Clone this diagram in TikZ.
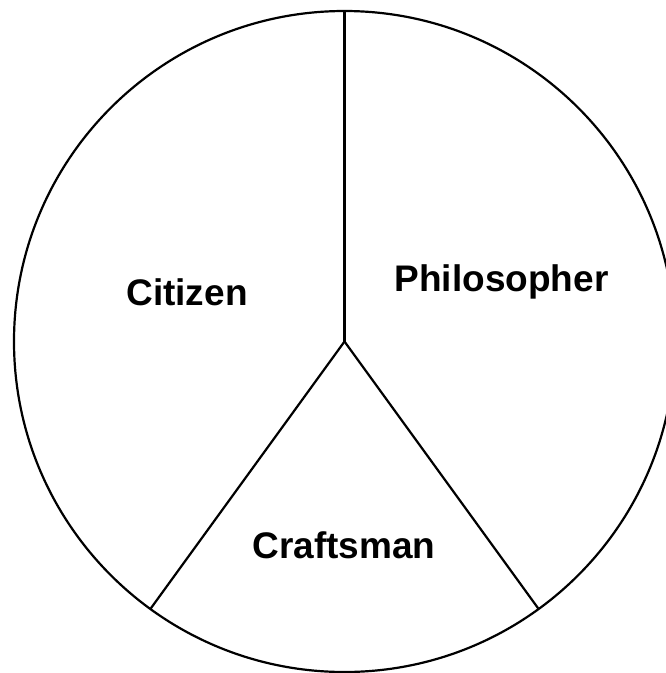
\documentclass[tikz,border=0pt]{standalone}
\usepackage{fontspec}
\setmainfont{Liberation Sans}
\begin{document}
\begin{tikzpicture}[x=1pt,y=-1pt,
  edge/.style={line width=2.2pt},
  lab/.style={font=\fontsize{37}{40}\selectfont\bfseries, anchor=base, inner sep=0pt}]
\useasboundingbox (0,0) rectangle (666,673);
\coordinate (c) at (344.5,341.5);
\draw[edge] (c) circle[radius=330.5];
\coordinate (top) at (344.5,11);
\coordinate (bl) at (150.2,609.2);
\coordinate (br) at (538.8,609.2);
\draw[edge] (c) -- (top);
\draw[edge] (c) -- (bl);
\draw[edge] (c) -- (br);
\node[lab] (citizen) at (187,305) {Citizen};
\node[lab] (philosopher) at (501.5,291.7) {Philosopher};
\node[lab] (craftsman) at (344,558) {Craftsman};
\end{tikzpicture}
\end{document}
